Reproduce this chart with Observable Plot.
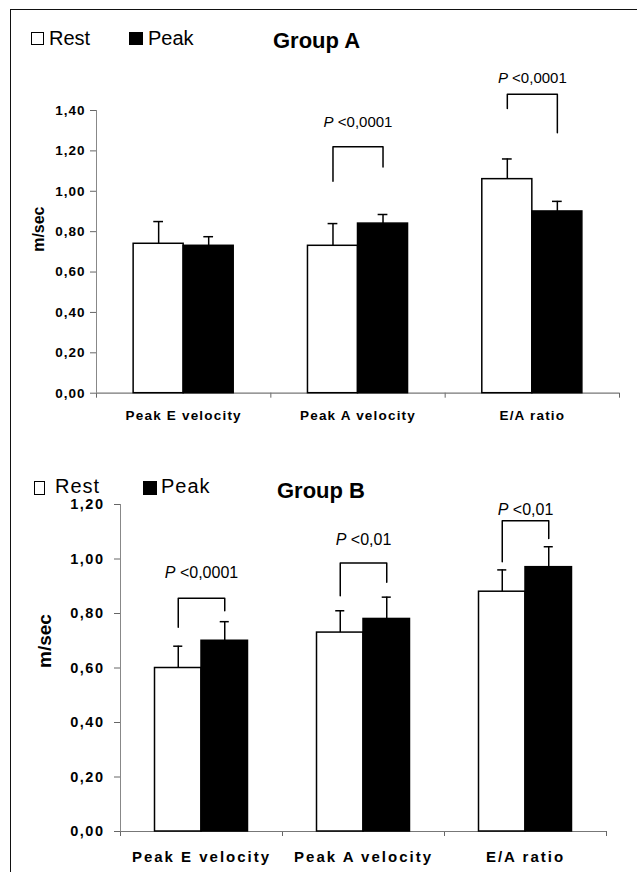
<!DOCTYPE html>
<html>
<head>
<meta charset="utf-8">
<script src="https://cdn.jsdelivr.net/npm/d3@7"></script>
<script src="https://cdn.jsdelivr.net/npm/@observablehq/plot@0.6"></script>
<style>
  html, body { margin: 0; padding: 0; background: #fff; }
  body { width: 637px; height: 872px; position: relative; overflow: hidden;
         font-family: "Liberation Sans", Arial, sans-serif; color: #000; }
  #frame { position: absolute; left: 10px; top: 9px; width: 640px; height: 880px;
           border-left: 1.5px solid #111; border-top: 1.5px solid #111; box-sizing: border-box; }
  .abs { position: absolute; white-space: nowrap; }
  .leg { font-size: 20px; line-height: 20px; }
  .boxW { border: 1.5px solid #000; background: #fff; box-sizing: border-box; }
  .boxB { background: #000; }
  .title { font-size: 22px; line-height: 22px; font-weight: bold; }
  .chart { position: absolute; left: 0; }
</style>
</head>
<body>
<div id="frame"></div>

<!-- Group A header -->
<div class="abs boxW" style="left:31px;top:32px;width:13px;height:13px;"></div>
<div class="abs leg" style="left:49px;top:28px;">Rest</div>
<div class="abs boxB" style="left:129px;top:32px;width:14px;height:13px;"></div>
<div class="abs leg" style="left:148px;top:28px;">Peak</div>
<div class="abs title" style="left:273px;top:30px;">Group A</div>
<div id="chartA" class="chart" style="top:60px;"></div>

<!-- Group B header -->
<div class="abs boxW" style="left:34px;top:481px;width:11px;height:14px;"></div>
<div class="abs leg" style="left:55px;top:476px;letter-spacing:1px;">Rest</div>
<div class="abs boxB" style="left:143px;top:481px;width:14px;height:14px;"></div>
<div class="abs leg" style="left:161px;top:476px;letter-spacing:1px;">Peak</div>
<div class="abs title" style="left:277px;top:480px;">Group B</div>
<div id="chartB" class="chart" style="top:480px;"></div>

<script>
// ---------- data ----------
const categories = ["Peak E velocity", "Peak A velocity", "E/A ratio"];
const seriesNames = ["Rest", "Peak"];

// Group A (m/sec, mean and SD)
const restA   = [0.74, 0.73, 1.06];
const restSdA = [0.11, 0.11, 0.10];
const peakA   = [0.73, 0.84, 0.90];
const peakSdA = [0.045, 0.045, 0.05];
const yTicksA = [0, 0.2, 0.4, 0.6, 0.8, 1.0, 1.2, 1.4];
// significance brackets for group A
const bracketCatA   = [1, 2];
const bracketLeftA  = [1.05, 1.41];
const bracketTopA   = [1.22, 1.48];
const bracketRightA = [1.12, 1.29];
const pLabelA  = ["P <0,0001", "P <0,0001"];
const pLabelYA = [1.34, 1.56];

// Group B
const restB   = [0.60, 0.73, 0.88];
const restSdB = [0.08, 0.08, 0.08];
const peakB   = [0.70, 0.78, 0.97];
const peakSdB = [0.07, 0.08, 0.075];
const yTicksB = [0, 0.2, 0.4, 0.6, 0.8, 1.0, 1.2];
const bracketCatB   = [0, 1, 2];
const bracketLeftB  = [0.75, 0.865, 0.99];
const bracketTopB   = [0.856, 0.985, 1.14];
const bracketRightB = [0.81, 0.915, 1.075];
const pLabelB  = ["P <0,0001", "P <0,01", "P <0,01"];
const pLabelYB = [0.95, 1.07, 1.18];

// ---------- drawing ----------
const BW = 0.287;   // bar width as a fraction of a category slot
const CAP = 0.028;  // half width of error-bar caps
const FONT = "Liberation Sans, Arial, sans-serif";
const fmt = d => d.toFixed(2).replace(".", ",");

function panel(o) {
  const bars = [];
  categories.forEach((c, i) => {
    bars.push({s: "Rest", x1: i - BW, x2: i, xc: i - BW / 2, v: o.rest[i], sd: o.restSd[i]});
    bars.push({s: "Peak", x1: i, x2: i + BW, xc: i + BW / 2, v: o.peak[i], sd: o.peakSd[i]});
  });
  const bracketPts = [];
  const pvals = [];
  o.bCat.forEach((c, k) => {
    bracketPts.push(
      {k, x: c - BW / 2, y: o.bLeft[k]},
      {k, x: c - BW / 2, y: o.bTop[k]},
      {k, x: c + BW / 2, y: o.bTop[k]},
      {k, x: c + BW / 2, y: o.bRight[k]}
    );
    pvals.push({x: c, y: o.pY[k], t: o.pLab[k]});
  });
  const xDomain = [-0.5, categories.length - 0.5];
  const xTicks = d3.range(categories.length + 1).map(i => i - 0.5);

  const svg = Plot.plot({
    width: 637,
    height: o.height,
    marginLeft: o.ml, marginRight: o.mr, marginTop: o.mt, marginBottom: o.mb,
    style: {fontFamily: FONT, fontSize: o.tickFont + "px", fontWeight: "bold",
            color: "#000", background: "transparent", overflow: "visible"},
    x: {domain: xDomain, ticks: xTicks, tickFormat: () => "", tickSize: 5, label: null},
    y: {domain: [0, o.yTicks[o.yTicks.length - 1]], ticks: o.yTicks, tickFormat: fmt,
        tickSize: 6, tickPadding: o.tickPad, label: null},
    marks: [
      Plot.ruleY([0], {stroke: "#777", strokeWidth: 1.2}),
      Plot.ruleX([xDomain[0]], {stroke: "#888", strokeWidth: 1}),
      Plot.rectY(bars.filter(d => d.s === "Rest"),
        {x1: "x1", x2: "x2", y1: 0, y2: "v", fill: "white", stroke: "black", strokeWidth: 1.5}),
      Plot.rectY(bars.filter(d => d.s === "Peak"),
        {x1: "x1", x2: "x2", y1: 0, y2: "v", fill: "black", stroke: "black", strokeWidth: 1.5}),
      Plot.ruleX(bars, {x: "xc", y1: "v", y2: d => d.v + d.sd, stroke: "black", strokeWidth: 1.5}),
      Plot.ruleY(bars, {y: d => d.v + d.sd, x1: d => d.xc - CAP, x2: d => d.xc + CAP,
        stroke: "black", strokeWidth: 1.5}),
      Plot.line(bracketPts, {x: "x", y: "y", z: "k", stroke: "black", strokeWidth: 1.5, curve: "linear"}),
      Plot.text(pvals, {x: "x", y: "y", text: "t", fontSize: o.pFont, fontWeight: "normal"}),
      Plot.text(categories, {x: (d, i) => i, y: 0, dy: o.catDy, text: d => d,
        fontSize: o.catFont, fontWeight: "bold"}),
      Plot.text(["m/sec"], {frameAnchor: "left", rotate: -90, dx: o.labDx, text: d => d,
        fontSize: o.labFont, fontWeight: "bold"})
    ]
  });

  // styling touches: grey axis lines, letter spacing, italic P
  svg.querySelectorAll('[aria-label*="axis"] line, [aria-label*="axis"] path').forEach(el => {
    el.setAttribute("stroke", "#666");
  });
  svg.querySelectorAll("text").forEach(t => {
    const s = t.textContent;
    if (categories.includes(s)) t.style.letterSpacing = o.catSpacing + "px";
    else if (/^\d,\d\d$/.test(s)) t.style.letterSpacing = o.tickSpacing + "px";
    else if (s.startsWith("P ")) {
      const ns = "http://www.w3.org/2000/svg";
      while (t.firstChild) t.removeChild(t.firstChild);
      const ts = document.createElementNS(ns, "tspan");
      ts.setAttribute("font-style", "italic");
      ts.textContent = "P";
      t.appendChild(ts);
      t.appendChild(document.createTextNode(s.slice(1)));
    }
  });
  return svg;
}

document.getElementById("chartA").appendChild(panel({
  rest: restA, restSd: restSdA, peak: peakA, peakSd: peakSdA, yTicks: yTicksA,
  bCat: bracketCatA, bLeft: bracketLeftA, bTop: bracketTopA, bRight: bracketRightA,
  pLab: pLabelA, pY: pLabelYA,
  height: 370, ml: 96, mr: 18, mt: 50, mb: 37.3,
  tickFont: 13.5, tickPad: 5, tickSpacing: 1,
  catFont: 13.5, catDy: 22, catSpacing: 1.2,
  pFont: 15, labFont: 16, labDx: -58
}));

document.getElementById("chartB").appendChild(panel({
  rest: restB, restSd: restSdB, peak: peakB, peakSd: peakSdB, yTicks: yTicksB,
  bCat: bracketCatB, bLeft: bracketLeftB, bTop: bracketTopB, bRight: bracketRightB,
  pLab: pLabelB, pY: pLabelYB,
  height: 392, ml: 120, mr: 31, mt: 24, mb: 41,
  tickFont: 14.5, tickPad: 10, tickSpacing: 1.5,
  catFont: 15, catDy: 26, catSpacing: 2,
  pFont: 16, labFont: 19, labDx: -75.5
}));
</script>
</body>
</html>
